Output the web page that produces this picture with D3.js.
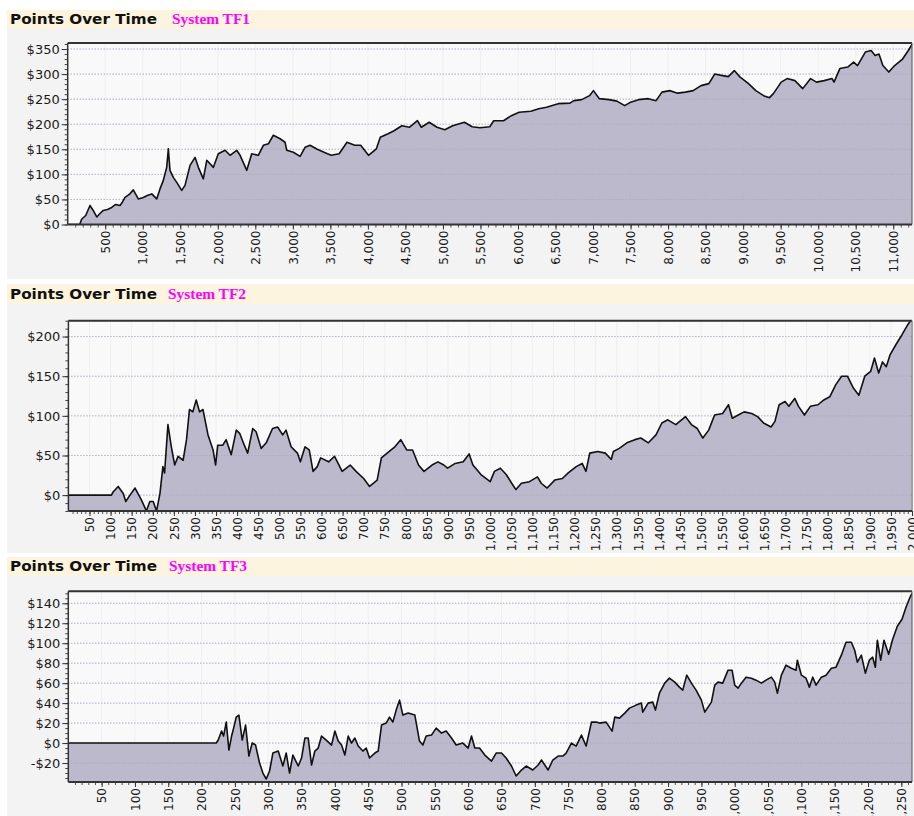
<!DOCTYPE html>
<html><head><meta charset="utf-8">
<script src="https://cdn.jsdelivr.net/npm/d3@7"></script>
<style>body{margin:0;background:#fff}svg{display:block}</style>
</head><body>
<svg id="c" width="914" height="816"></svg>
<script>
// ---- Panel 1: System TF1 ----
const tf1X=[0,160,187,240,297,340,387,430,474,530,586,640,697,730,764,820,874,941,1008,1060,1120,1186,1230,1274,1319,1341,1363,1407,1453,1519,1563,1630,1697,1741,1807,1853,1941,2007,2097,2163,2252,2297,2386,2452,2540,2607,2674,2740,2830,2896,2919,3007,3096,3163,3229,3325,3461,3513,3617,3721,3826,3904,4008,4113,4165,4269,4348,4452,4556,4660,4712,4817,4921,5025,5129,5286,5390,5494,5624,5676,5807,5911,6015,6171,6276,6380,6536,6692,6745,6849,6953,7005,7084,7214,7318,7422,7501,7605,7736,7840,7918,8022,8126,8230,8334,8439,8543,8621,8726,8803,8882,8960,9064,9169,9273,9351,9403,9507,9586,9690,9794,9899,9976,10080,10185,10211,10289,10393,10472,10524,10628,10706,10758,10810,10862,10941,11019,11124,11201,11253];
const tf1Y=[0,0,11,18,38,28,15,22,28,30,34,40,38,45,54,60,69,51,54,58,61,51,71,88,114,151,108,94,84,68,78,118,134,114,91,128,114,141,148,138,148,138,108,141,138,158,161,178,171,164,148,144,136,154,158,150,141,138,141,164,158,158,138,151,174,181,187,197,194,207,194,204,194,189,197,204,195,193,195,207,207,217,224,226,231,234,241,242,247,249,257,267,251,249,246,237,244,249,251,247,264,267,262,264,267,277,281,300,297,295,307,294,282,267,257,253,261,284,291,287,271,291,284,287,291,284,311,314,324,317,344,347,337,340,317,304,317,330,347,360];
const tf1XTicks=[500,1000,1500,2000,2500,3000,3500,4000,4500,5000,5500,6000,6500,7000,7500,8000,8500,9000,9500,10000,10500,11000];
const tf1YTicks=[0,50,100,150,200,250,300,350];

// ---- Panel 2: System TF2 ----
const tf2X=[0,102,106,118,130,136,146,158,165,173,185,193,201,209,217,224,228,236,244,252,260,272,280,287,295,303,311,319,331,343,349,354,366,374,386,398,406,417,425,437,445,457,469,484,496,508,516,528,543,550,561,571,580,590,598,617,631,649,668,682,700,714,732,742,760,774,788,802,816,830,843,862,876,890,899,917,936,950,959,978,1000,1010,1024,1038,1051,1061,1074,1093,1112,1121,1135,1153,1171,1185,1204,1218,1227,1236,1255,1273,1287,1292,1306,1324,1343,1357,1375,1393,1407,1421,1440,1463,1477,1491,1504,1518,1532,1551,1565,1574,1588,1602,1620,1634,1648,1666,1675,1685,1699,1708,1722,1731,1745,1759,1777,1791,1805,1819,1833,1847,1861,1874,1888,1902,1911,1921,1930,1939,1948,1962,1976,1990,1998];
const tf2Y=[0,0,4,11,2,-8,0,9,2,-6,-20,-8,-8,-20,2,36,28,89,61,38,49,44,70,108,105,120,105,108,76,57,38,63,63,70,51,82,78,63,53,84,80,59,66,84,86,76,82,61,53,42,61,57,30,36,47,42,49,30,38,30,21,11,19,47,55,61,70,57,57,38,30,38,42,38,34,40,42,52,38,26,17,30,34,26,15,7,15,17,23,15,9,19,21,28,36,40,30,53,55,53,45,55,59,66,70,72,66,76,91,95,89,99,89,84,72,82,101,103,114,97,101,105,103,99,91,86,93,114,118,112,122,112,101,112,114,120,124,139,150,150,135,126,150,156,173,154,168,162,177,190,202,215,221];
const tf2XTicks=[50,100,150,200,250,300,350,400,450,500,550,600,650,700,750,800,850,900,950,1000,1050,1100,1150,1200,1250,1300,1350,1400,1450,1500,1550,1600,1650,1700,1750,1800,1850,1900,1950,2000];
const tf2YTicks=[0,50,100,150,200];

// ---- Panel 3: System TF3 ----
const tf3X=[0,222,225,230,233,237,241,245,247,252,256,261,266,271,276,281,287,292,297,302,307,315,322,327,332,337,345,350,355,360,365,370,375,380,387,395,400,405,410,415,420,425,430,435,442,447,452,460,465,470,477,482,487,492,497,502,510,520,527,532,537,545,552,560,567,575,582,592,600,605,610,617,625,635,642,650,657,665,672,680,687,697,705,710,720,727,735,742,747,755,762,770,777,785,792,797,807,816,820,827,835,842,852,860,862,870,877,881,887,895,902,910,917,922,928,935,942,950,955,960,965,970,975,982,990,996,1000,1005,1010,1017,1025,1032,1040,1047,1055,1060,1064,1070,1077,1085,1092,1094,1100,1107,1112,1117,1122,1130,1137,1145,1152,1160,1167,1175,1180,1184,1190,1196,1202,1207,1211,1214,1219,1224,1231,1237,1244,1251,1257,1263,1266];
const tf3Y=[0,0,3,12,7,21,-7,7,12,26,28,3,18,-13,0,-2,-20,-30,-36,-28,-10,-8,-23,-10,-30,-12,-23,-15,5,5,-22,-8,-5,7,3,-2,12,2,-2,-12,7,0,5,-3,-8,-5,-15,-10,-8,18,20,26,21,33,43,28,30,28,2,-2,7,8,15,10,12,5,-2,0,-5,7,-5,-5,-12,-18,-10,-10,-15,-23,-33,-27,-23,-27,-22,-17,-27,-17,-13,-13,-10,0,-3,8,-3,21,21,20,21,12,26,25,30,35,38,40,31,40,41,33,50,60,65,61,56,53,68,60,53,43,31,36,41,58,61,60,73,73,58,55,60,66,65,63,60,63,66,61,50,68,78,75,73,83,68,65,56,66,58,66,68,75,76,88,101,101,93,81,88,70,83,86,76,103,83,103,89,104,117,124,136,146,150];
const tf3XTicks=[50,100,150,200,250,300,350,400,450,500,550,600,650,700,750,800,850,900,950,1000,1050,1100,1150,1200,1250];
const tf3YTicks=[-20,0,20,40,60,80,100,120,140];

const panels=[
  {sys:"System TF1",xs:tf1X,ys:tf1Y,xd:[0,11250],yd:[0,362],xt:tf1XTicks,xm:100,yt:tf1YTicks,ym:10,
   bar:[10,19],bgB:279,p:{l:67.7,r:912,t:43,b:224.5},sysX:172},
  {sys:"System TF2",xs:tf2X,ys:tf2Y,xd:[0,2000],yd:[-20,220],xt:tf2XTicks,xm:10,yt:tf2YTicks,ym:10,
   bar:[284,20],bgB:553,p:{l:68.4,r:912,t:320.7,b:511},sysX:168},
  {sys:"System TF3",xs:tf3X,ys:tf3Y,xd:[0,1266],yd:[-39,152],xt:tf3XTicks,xm:10,yt:tf3YTicks,ym:5,
   bar:[557,19],bgB:816,p:{l:68.3,r:912,t:591.3,b:782},sysX:169}
];

const svg=d3.select("#c");
const xFmt=d3.format(",");
const yFmt=v=>v<0?"-$"+(-v):"$"+v;

panels.forEach((P,i)=>{
  const g=svg.append("g");
  const p=P.p;
  g.append("rect").attr("x",7).attr("y",P.bar[0]).attr("width",907).attr("height",P.bar[1]).attr("fill","#fcf4de");
  g.append("rect").attr("x",7).attr("y",P.bar[0]+P.bar[1]).attr("width",907).attr("height",P.bgB-P.bar[0]-P.bar[1]).attr("fill","#f3f3f3");
  const base=P.bar[0]+P.bar[1]-5;
  g.append("text").attr("x",10).attr("y",base).attr("font-family","DejaVu Sans").attr("font-weight","bold")
    .attr("font-size",14).attr("fill","#111").attr("textLength",147).attr("lengthAdjust","spacingAndGlyphs").text("Points Over Time");
  g.append("text").attr("x",P.sysX).attr("y",base).attr("font-family","Liberation Serif").attr("font-weight","bold")
    .attr("font-size",14).attr("fill","#ff00ff").attr("textLength",78).attr("lengthAdjust","spacingAndGlyphs").text(P.sys);

  const x=d3.scaleLinear().domain(P.xd).range([p.l,p.r]);
  const y=d3.scaleLinear().domain(P.yd).range([p.b,p.t]);

  g.append("rect").attr("x",p.l).attr("y",p.t).attr("width",p.r-p.l).attr("height",p.b-p.t).attr("fill","#f9f9f9");
  // faint vertical grid
  g.selectAll(".vg").data(P.xt).join("line").attr("x1",d=>x(d)).attr("x2",d=>x(d)).attr("y1",p.t).attr("y2",p.b)
    .attr("stroke","#efefef").attr("stroke-width",1);
  // horizontal dotted grid
  g.selectAll(".hg").data(P.yt).join("line").attr("x1",p.l).attr("x2",p.r).attr("y1",d=>y(d)).attr("y2",d=>y(d))
    .attr("stroke","#c6c6dc").attr("stroke-width",1).attr("stroke-dasharray","1,2");

  const cid="clip"+i;
  g.append("clipPath").attr("id",cid).append("rect").attr("x",p.l).attr("y",p.t).attr("width",p.r-p.l).attr("height",p.b-p.t);
  const pts=P.xs.map((v,k)=>[v,P.ys[k]]);
  const cg=g.append("g").attr("clip-path",`url(#${cid})`);
  cg.append("path").datum(pts).attr("d",d3.area().x(d=>x(d[0])).y0(p.b).y1(d=>y(d[1])))
    .attr("fill","#b6b3c8").attr("fill-opacity",0.92);
  // dotted grid visible faintly over fill
  cg.selectAll(".hg2").data(P.yt).join("line").attr("x1",p.l).attr("x2",p.r).attr("y1",d=>y(d)).attr("y2",d=>y(d))
    .attr("stroke","#a9a7c0").attr("stroke-width",1).attr("stroke-dasharray","1,2");
  cg.append("path").datum(pts).attr("d",d3.line().x(d=>x(d[0])).y(d=>y(d[1])))
    .attr("fill","none").attr("stroke","#111").attr("stroke-width",1.6).attr("stroke-linejoin","round");

  // axes
  const minorY=d3.range(Math.ceil(P.yd[0]/P.ym)*P.ym,P.yd[1]+0.001,P.ym);
  const ay=g.append("g").attr("transform",`translate(${p.l},0)`)
    .call(d3.axisLeft(y).tickValues(minorY).tickSize(3).tickFormat(""));
  ay.select(".domain").remove(); ay.selectAll("line").attr("stroke","#444");
  const ay2=g.append("g").attr("transform",`translate(${p.l},0)`)
    .call(d3.axisLeft(y).tickValues(P.yt).tickSize(6).tickPadding(2).tickFormat(yFmt));
  ay2.select(".domain").remove(); ay2.selectAll("line").attr("stroke","#333");
  ay2.selectAll("text").attr("font-family","DejaVu Sans").attr("font-size",13).attr("fill","#1a1a1a");

  const minorX=d3.range(P.xm,P.xd[1]+0.001,P.xm);
  const ax=g.append("g").attr("transform",`translate(0,${p.b})`)
    .call(d3.axisBottom(x).tickValues(minorX).tickSize(3).tickFormat(""));
  ax.select(".domain").remove(); ax.selectAll("line").attr("stroke","#555");
  const ax2=g.append("g").attr("transform",`translate(0,${p.b})`)
    .call(d3.axisBottom(x).tickValues(P.xt).tickSize(5).tickFormat(xFmt));
  ax2.select(".domain").remove(); ax2.selectAll("line").attr("stroke","#333");
  ax2.selectAll("text").attr("font-family","DejaVu Sans").attr("font-size",12).attr("fill","#1a1a1a")
    .attr("transform","rotate(-90)").attr("text-anchor","end").attr("x",-6).attr("y",0).attr("dy","0.35em");

  // border
  g.append("line").attr("x1",p.l).attr("x2",p.r).attr("y1",p.t).attr("y2",p.t).attr("stroke","#333").attr("stroke-width",2);
  g.append("line").attr("x1",p.l).attr("x2",p.l).attr("y1",p.t).attr("y2",p.b).attr("stroke","#333").attr("stroke-width",1.5);
  g.append("line").attr("x1",p.r).attr("x2",p.r).attr("y1",p.t).attr("y2",p.b).attr("stroke","#555").attr("stroke-width",1);
  g.append("line").attr("x1",p.l).attr("x2",p.r).attr("y1",p.b).attr("y2",p.b).attr("stroke","#333").attr("stroke-width",2);
});
</script>
</body></html>
